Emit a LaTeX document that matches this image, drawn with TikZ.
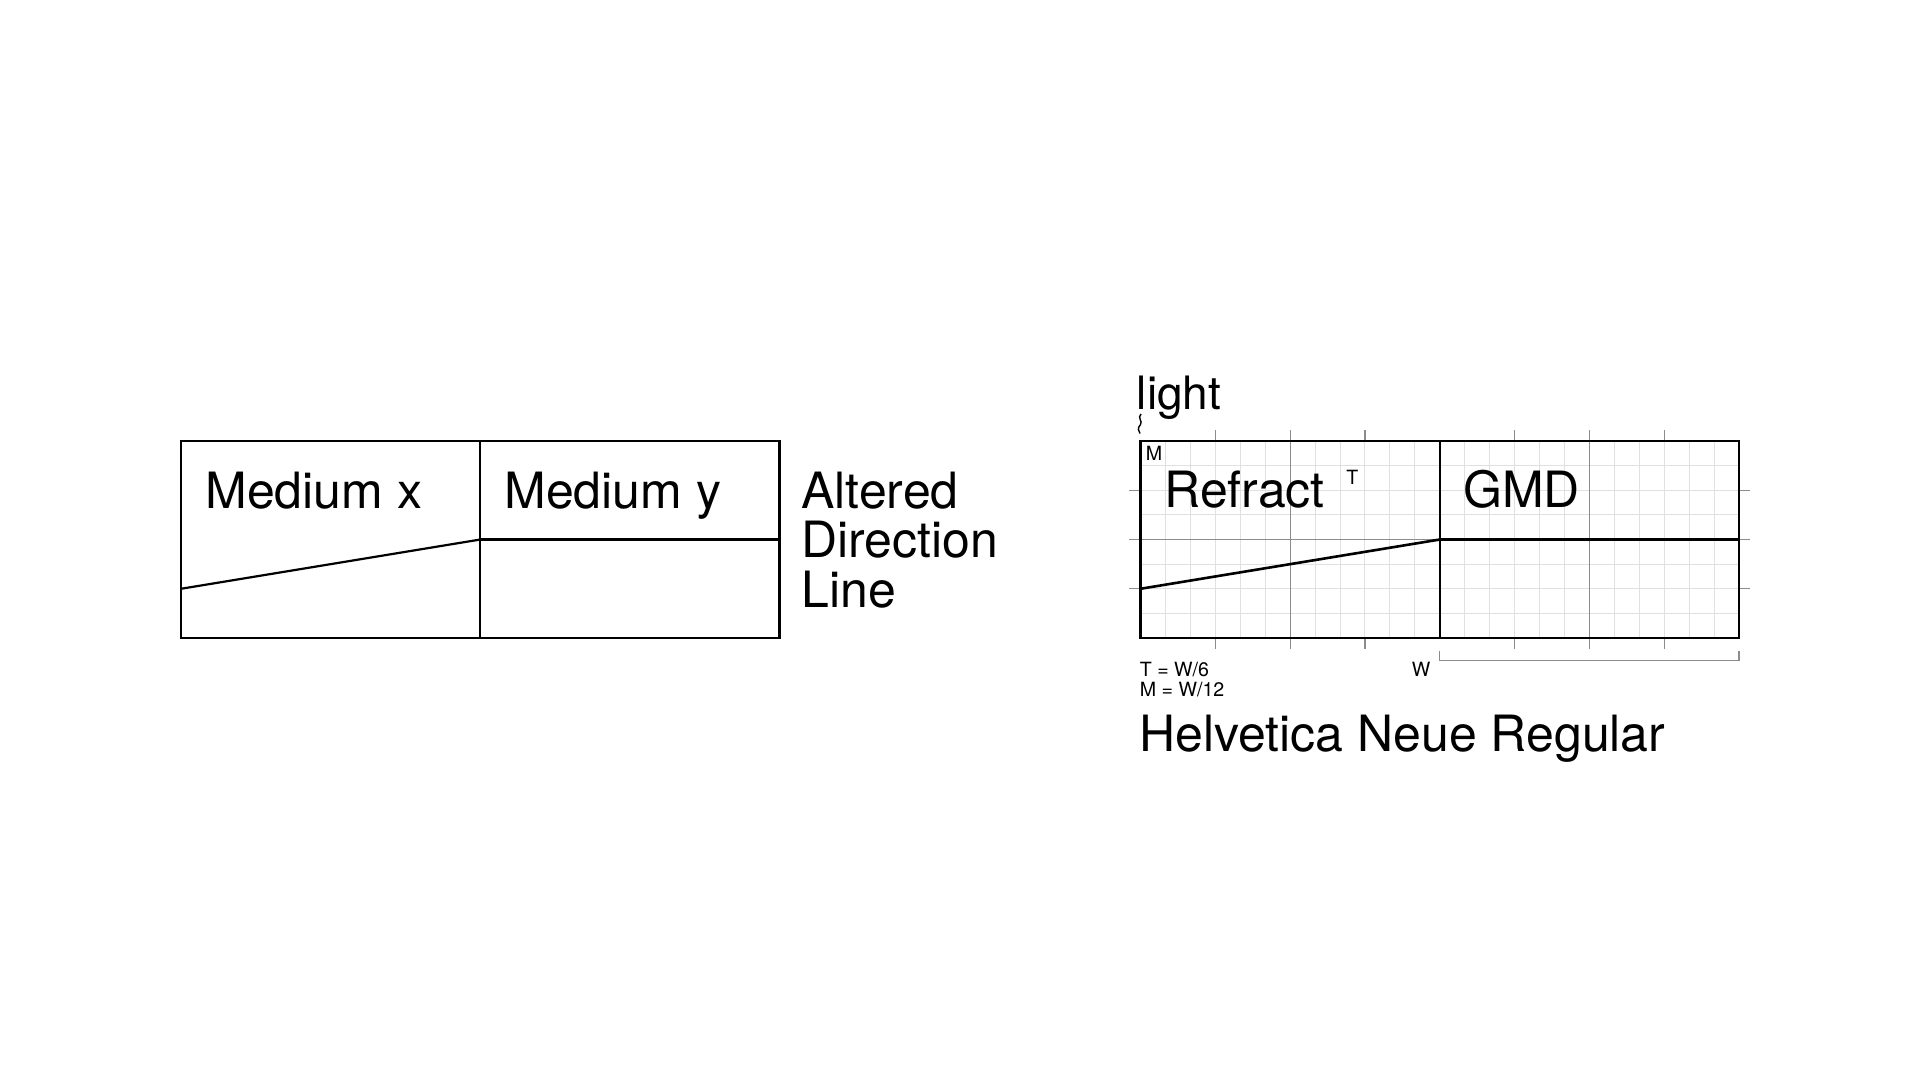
\documentclass[tikz,border=0pt]{standalone}
\usepackage{fontspec}
\setmainfont{TeX Gyre Heros}
\begin{document}
\begin{tikzpicture}[x=0.5pt, y=-0.5pt,
  bigtext/.style={anchor=base west, inner sep=0pt, font=\fontsize{25}{29}\selectfont},
  lighttext/.style={anchor=base west, inner sep=0pt, font=\fontsize{23}{27}\selectfont},
  smalltext/.style={anchor=base west, inner sep=0pt, font=\fontsize{9.8}{11}\selectfont},
  cellunits/.style={x=12.47pt, y=-12.315pt},
  boxline/.style={line width=1.1pt},
  heavyline/.style={line width=1.3pt},
  fineline/.style={line width=0.5pt, draw=black!12},
  midline/.style={line width=0.6pt, draw=black!45}]
\fill[white] (0,0) rectangle (1920,1080);
\useasboundingbox (0,0) rectangle (1920,1080);

% left diagram
\begin{scope}[shift={(181,441)}, cellunits]
\draw[boxline] (0,0) rectangle (24,8);
\draw[boxline] (12,0) -- (12,8);
\draw[boxline] (12,4) -- (24,4);
\draw[boxline] (0,6) -- (12,4);
\end{scope}

\node[bigtext] (mediumx) at (205,508) {Medium x};
\node[bigtext] (mediumy) at (504,508) {Medium y};
\node[bigtext] (altered) at (801,508) {Altered};
\node[bigtext] (direction) at (801,557) {Direction};
\node[bigtext] (lineword) at (801,607) {Line};

% right diagram on the grid
\begin{scope}[shift={(1140.5,441)}, cellunits]
\foreach \i in {1,...,23} \draw[fineline] (\i,0) -- (\i,8);
\foreach \j in {1,...,7} \draw[fineline] (0,\j) -- (24,\j);
\draw[midline] (6,-0.45) -- (6,8.45);
\draw[midline] (18,-0.45) -- (18,8.45);
\draw[midline] (-0.45,4) -- (12,4) (24,4) -- (24.45,4);
\foreach \t in {3,9,15,21} \draw[midline] (\t,-0.45) -- (\t,0) (\t,8) -- (\t,8.45);
\foreach \t in {2,6} \draw[midline] (-0.45,\t) -- (0,\t) (24,\t) -- (24.45,\t);
\draw[heavyline] (0,0) rectangle (24,8);
\draw[heavyline] (12,0) -- (12,8);
\draw[heavyline] (12,4) -- (24,4);
\draw[heavyline] (0,6) -- (12,4);
\draw[midline] (12,8.52) -- (12,8.9) -- (24,8.9) -- (24,8.52);
\end{scope}

\node[lighttext] (light) at (1136.5,409.3) {light};
\draw[line width=0.7pt] (1141,414) .. controls (1137,418) and (1143,421) .. (1140.5,424.5)
  .. controls (1137.5,428) and (1138,431) .. (1140,433.5);
\node[bigtext] (refract) at (1164,507) {Refract};
\node[bigtext] (gmd) at (1463,507) {GMD};
\node[smalltext] (markm) at (1145.5,460.7) {M};
\node[smalltext] (markt) at (1346,484) {T};
\node[smalltext] (tformula) at (1139.5,676.7) {T = W/6};
\node[smalltext] (mformula) at (1139.5,696.7) {M = W/12};
\node[smalltext] (markw) at (1411.5,676.7) {W};
\node[bigtext] (fontname) at (1139,751.7) {Helvetica Neue Regular};
\end{tikzpicture}
\end{document}
